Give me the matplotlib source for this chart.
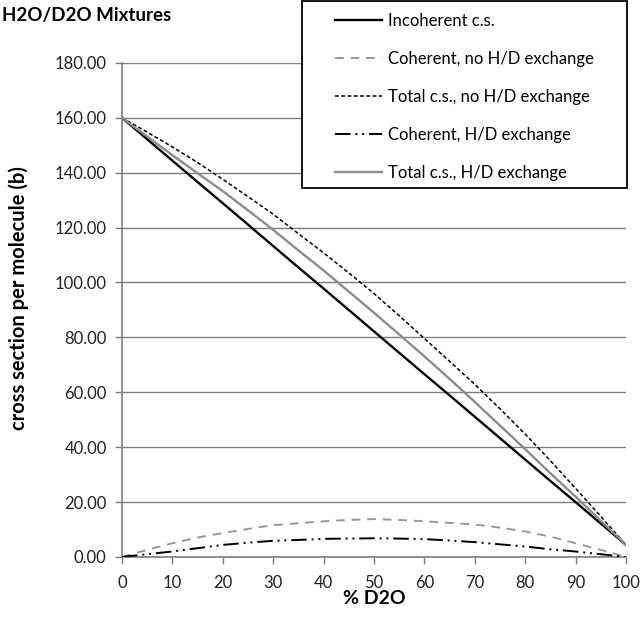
import matplotlib
matplotlib.use("Agg")
import matplotlib.pyplot as plt
import matplotlib.patches as mpatches
import numpy as np

plt.rcParams["font.family"] = ["Lato", "DejaVu Sans"]

# ---------------------------------------------------------------------------
# Data
# ---------------------------------------------------------------------------
pct_d2o = [0, 5, 10, 15, 20, 25, 30, 35, 40, 45, 50,
           55, 60, 65, 70, 75, 80, 85, 90, 95, 100]

incoherent = [160.0, 152.2, 144.4, 136.6, 128.9, 121.1, 113.3, 105.5, 97.8, 90.0, 82.2,
              74.4, 66.6, 58.9, 51.1, 43.3, 35.5, 27.7, 20.0, 12.2, 4.4]
coh_no_hd = [0.0, 2.6, 5.0, 7.1, 8.7, 10.2, 11.6, 12.3, 13.0, 13.5, 13.8,
             13.5, 13.0, 12.4, 11.8, 10.7, 9.3, 7.4, 5.0, 2.6, 0.0]
tot_no_hd = [160.0, 154.8, 149.4, 143.7, 137.6, 131.3, 124.9, 117.8, 110.8, 103.5, 96.0,
             87.9, 79.6, 71.3, 62.9, 54.0, 44.8, 35.1, 25.0, 14.8, 4.4]
coh_hd = [0.0, 1.0, 2.0, 3.2, 4.4, 5.2, 5.9, 6.2, 6.6, 6.7, 6.8,
          6.7, 6.5, 6.0, 5.4, 4.6, 3.8, 2.8, 2.0, 1.0, 0.0]
tot_hd = [160.0, 153.2, 146.4, 139.8, 133.3, 126.3, 119.2, 111.7, 104.4, 96.7, 89.0,
          81.1, 73.1, 64.9, 56.5, 47.9, 39.3, 30.5, 22.0, 13.2, 4.4]

labels = ["Incoherent c.s.", "Coherent, no H/D exchange", "Total c.s., no H/D exchange",
          "Coherent, H/D exchange", "Total c.s., H/D exchange"]

# ---------------------------------------------------------------------------
# Plot
# ---------------------------------------------------------------------------
AXIS_C = "#7f7f7f"
GREY = "#8c8c8c"
W, H = 640, 623

fig = plt.figure(figsize=(6.4, 6.23), dpi=100)
ax = fig.add_axes([0.1906, 0.106, 0.7874, 0.793])

ax.plot(pct_d2o, incoherent, color="black", lw=1.7, label=labels[0], zorder=3)
ax.plot(pct_d2o, coh_no_hd, color="#999999", lw=1.4, dashes=(4.5, 3.5), label=labels[1], zorder=3)
ax.plot(pct_d2o, tot_no_hd, color="black", lw=1.1, dashes=(2.5, 1.6), label=labels[2], zorder=3)
ax.plot(pct_d2o, coh_hd, color="black", lw=1.4, dashes=(8, 2.5, 1, 2.5, 1, 2.5),
        label=labels[3], zorder=3)
ax.plot(pct_d2o, tot_hd, color=GREY, lw=1.7, label=labels[4], zorder=3)

ax.set_xlim(0, 100)
ax.set_ylim(0, 180)
ax.set_xticks(np.arange(0, 101, 10))
ax.set_yticks(np.arange(0, 181, 20))
ax.yaxis.set_major_formatter(matplotlib.ticker.FormatStrFormatter("%.2f"))
ax.tick_params(direction="out", length=5, width=1, color=AXIS_C,
               labelsize=12, labelcolor="#222222", pad=6)
ax.tick_params(axis="x", pad=8)

ax.yaxis.grid(True, color=AXIS_C, lw=1)
ax.set_axisbelow(True)
for side in ["top", "right"]:
    ax.spines[side].set_visible(False)
for side in ["left", "bottom"]:
    ax.spines[side].set_color(AXIS_C)
    ax.spines[side].set_linewidth(1.2)

fig.text(374 / W, 1 - 598 / H, "% D2O", fontsize=14, fontweight="bold",
         ha="center", va="center")
fig.text(19 / W, 1 - 298 / H, "cross section per molecule (b)", fontsize=14.5,
         fontweight="bold", rotation=90, rotation_mode="anchor",
         ha="center", va="center")
fig.text(0.003, 0.975, "H2O/D2O Mixtures", fontsize=13.5, fontweight="bold",
         ha="left", va="center")

# legend box drawn by hand (wider side padding than matplotlib allows)
frame = mpatches.Rectangle((302 / W, 1 - 188 / H), 325 / W, 187 / H,
                           transform=fig.transFigure, facecolor="white",
                           edgecolor="black", lw=1.3, zorder=5)
fig.add_artist(frame)
handles, _ = ax.get_legend_handles_labels()
leg = fig.legend(handles, labels, loc="upper left", bbox_to_anchor=(335 / W, 1 - 13 / H),
                 bbox_transform=fig.transFigure, fontsize=12,
                 handlelength=2.8, handletextpad=0.36, labelspacing=1.32,
                 borderpad=0, borderaxespad=0, frameon=False)
leg.set_zorder(6)

fig.savefig("out.png", dpi=100, facecolor="white")
